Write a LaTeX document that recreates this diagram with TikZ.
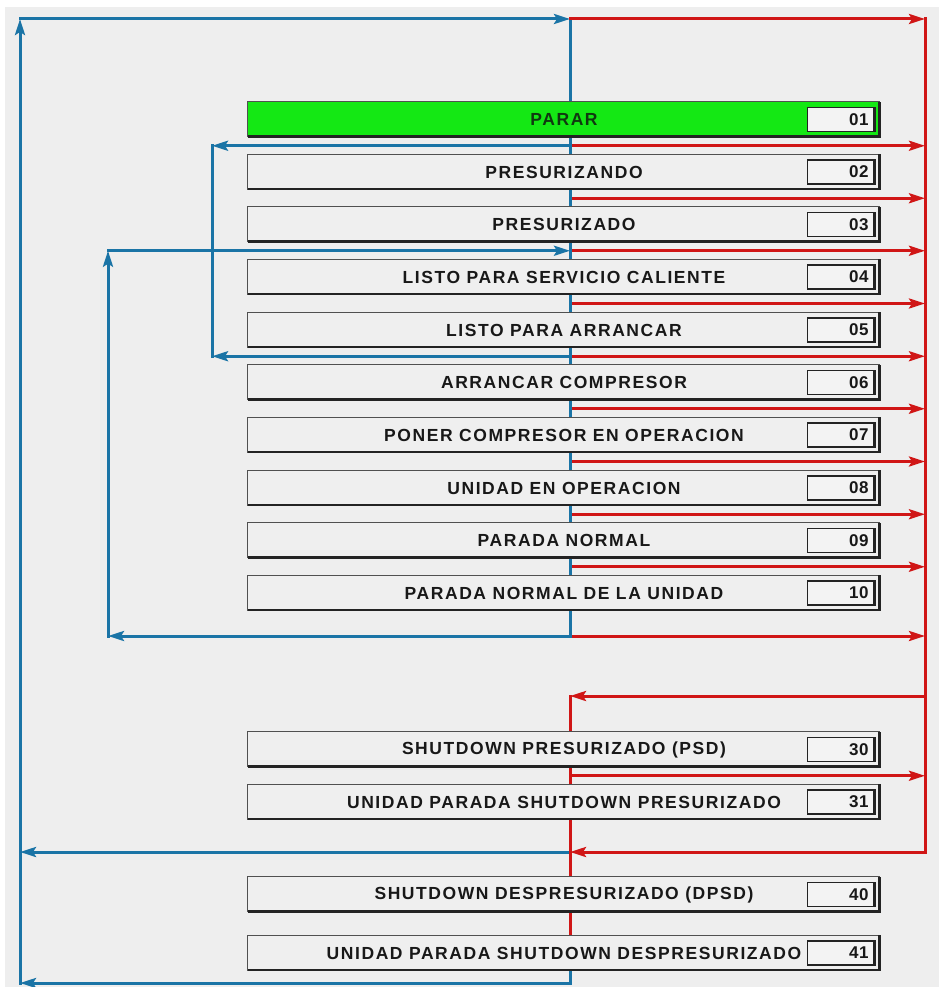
\documentclass[tikz,border=0pt]{standalone}
\usepackage{fontspec}
\usetikzlibrary{arrows.meta,calc,backgrounds}
\newfontfamily\lblfont{Liberation Sans}[LetterSpace=9]
\newfontfamily\numfont{Liberation Sans}[LetterSpace=4]

\definecolor{bggray}{RGB}{238,238,238}
\definecolor{boxgray}{RGB}{239,239,239}
\definecolor{numfill}{RGB}{243,243,243}
\definecolor{edgelight}{RGB}{80,80,80}
\definecolor{edgedark}{RGB}{35,35,35}
\definecolor{busblue}{RGB}{26,116,166}
\definecolor{busred}{RGB}{208,22,22}
\definecolor{stopgreen}{RGB}{20,232,20}
\definecolor{txtdark}{RGB}{24,24,24}
\definecolor{txtgreen}{RGB}{16,56,16}

\tikzset{
  statebox/.style={fill=boxgray, minimum width=632pt, minimum height=35pt,
    inner sep=0pt, text=txtdark,
    font=\lblfont\bfseries\fontsize{17.5}{20}\selectfont},
  activebox/.style={statebox, fill=stopgreen, text=txtgreen},
  numbox/.style={draw=edgedark, line width=1.2pt, fill=numfill,
    minimum width=66pt, minimum height=24pt, inner sep=5pt,
    text width=56pt, align=right, text=txtdark,
    font=\numfont\bfseries\fontsize{17}{19}\selectfont},
  boxedge top/.style={draw=edgelight, line width=1.3pt},
  boxedge bottom/.style={draw=edgedark, line width=2.8pt},
  blueline/.style={draw=busblue, line width=3pt, line cap=rect},
  redline/.style={draw=busred, line width=3pt, line cap=rect},
  >={Stealth[length=16pt,width=10pt,inset=3pt]},
}

\begin{document}
\begin{tikzpicture}[x=1pt,y=-1pt]
\useasboundingbox (0,0) rectangle (939,987);

% bus positions
\coordinate (busB) at (570,0);
\coordinate (busR) at (925,0);
\coordinate (busL1) at (20,0);
\coordinate (busL2) at (108,0);
\coordinate (busL3) at (212,0);
\coordinate (ytop) at (0,19);
\coordinate (ylow) at (0,636);
\coordinate (yret1) at (0,696);
\coordinate (yret2) at (0,852);
\coordinate (ybot) at (0,983);

% state boxes
\node[activebox] (s01) at (564,119.5) {PARAR};
\node[statebox] (s02) at (564,172) {PRESURIZANDO};
\node[statebox] (s03) at (564,224.5) {PRESURIZADO};
\node[statebox] (s04) at (564,277) {LISTO PARA SERVICIO CALIENTE};
\node[statebox] (s05) at (564,330) {LISTO PARA ARRANCAR};
\node[statebox] (s06) at (564,382.5) {ARRANCAR COMPRESOR};
\node[statebox] (s07) at (564,435) {PONER COMPRESOR EN OPERACION};
\node[statebox] (s08) at (564,488) {UNIDAD EN OPERACION};
\node[statebox] (s09) at (564,540.5) {PARADA NORMAL};
\node[statebox] (s10) at (564,593) {PARADA NORMAL DE LA UNIDAD};
\node[statebox] (s30) at (564,749.5) {SHUTDOWN PRESURIZADO (PSD)};
\node[statebox] (s31) at (564,802) {UNIDAD PARADA SHUTDOWN PRESURIZADO};
\node[statebox] (s40) at (564,894.5) {SHUTDOWN DESPRESURIZADO (DPSD)};
\node[statebox] (s41) at (564,953) {UNIDAD PARADA SHUTDOWN DESPRESURIZADO};

% raised edges of the state boxes
\foreach \n in {s01,s02,s03,s04,s05,s06,s07,s08,s09,s10,s30,s31,s40,s41}{
  \draw[boxedge top] (\n.south west) |- (\n.north east);
  \draw[boxedge bottom] ([yshift=0.7pt]\n.south west) -- ([xshift=-0.7pt,yshift=0.7pt]\n.south east)
     -- ([xshift=-0.7pt]\n.north east);
}

% number fields
\foreach \n in {01,02,03,04,05,06,07,08,09,10,30,31,40,41}{
  \node[numbox, anchor=east] (n\n) at ([xshift=-6pt]s\n.east) {\n};
  \draw[edgedark, line width=1.6pt] ([xshift=1pt]n\n.south east) -- ([xshift=1pt]n\n.north east);
}

% gaps between consecutive states
\foreach \a/\b/\g in {s01/s02/g1,s02/s03/g2,s03/s04/g3,s04/s05/g4,s05/s06/g5,
                      s06/s07/g6,s07/s08/g7,s08/s09/g8,s09/s10/g9,s30/s31/g30}
  \coordinate (\g) at ($(\a.south)!0.5!(\b.north)$);

\begin{scope}[on background layer]
\fill[white] (0,0) rectangle (939,987);
\fill[bggray] (5,7) rectangle (939,987);

% blue return paths
\draw[blueline,->] (busL1 |- ybot) -- (busL1 |- ytop);
\draw[blueline,->] (busL1 |- ytop) -- (busB |- ytop);
\draw[blueline] (busB |- ytop) -- (busB |- ylow);
\draw[blueline,->] (busB |- ylow) -- (busL2 |- ylow);
\draw[blueline,->] (busL2 |- ylow) -- (busL2 |- g3);
\draw[blueline,->] (busL2 |- g3) -- (busB |- g3);
\draw[blueline,->] (busB |- g1) -- (busL3 |- g1);
\draw[blueline,->] (busB |- g5) -- (busL3 |- g5);
\draw[blueline] (busL3 |- g1) -- (busL3 |- g5);
\draw[blueline,->] (busB |- yret2) -- (busL1 |- yret2);
\draw[blueline] (busB |- s41) -- (busB |- ybot);
\draw[blueline,->] (busB |- ybot) -- (busL1 |- ybot);

% red shutdown paths
\draw[redline,->] (busB |- ytop) -- (busR |- ytop);
\draw[redline] (busR |- ytop) -- (busR |- yret2);
\foreach \g in {g1,g2,g3,g4,g5,g6,g7,g8,g9,ylow,g30}
  \draw[redline,->] ([xshift=3pt]busB |- \g) -- (busR |- \g);
\draw[redline,->] (busR |- yret1) -- (busB |- yret1);
\draw[redline,->] (busR |- yret2) -- (busB |- yret2);
\draw[redline] (busB |- yret1) -- (busB |- s41.north);
\end{scope}
\end{tikzpicture}
\end{document}
